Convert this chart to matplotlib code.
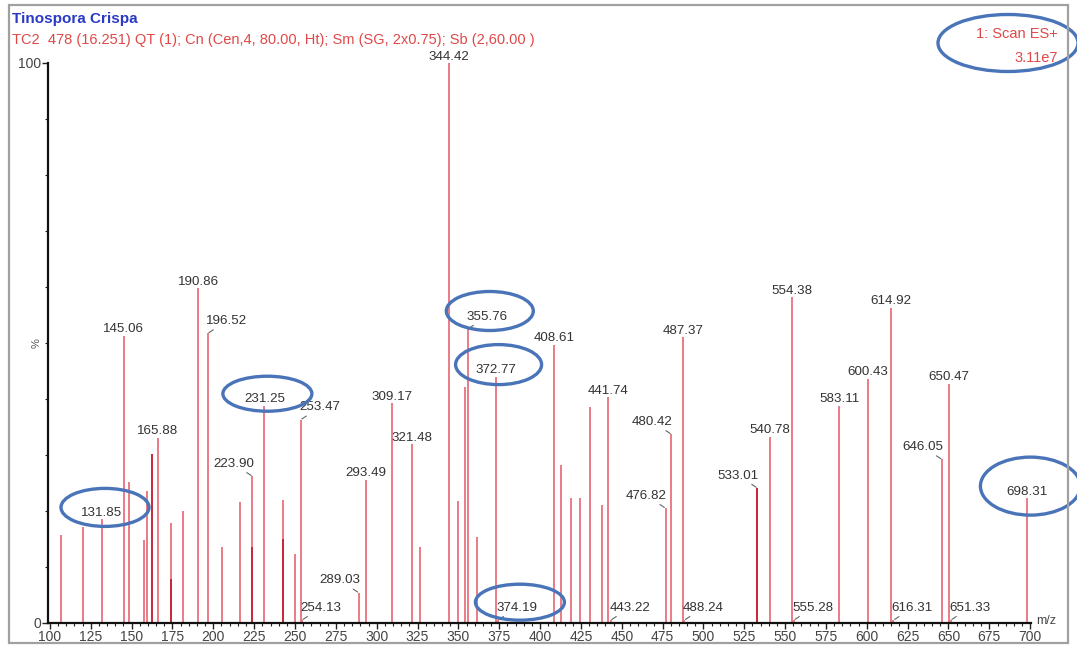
import matplotlib
matplotlib.use('Agg')
import matplotlib.pyplot as plt
from matplotlib.patches import Ellipse, Rectangle
from matplotlib.ticker import MultipleLocator
from matplotlib.transforms import IdentityTransform

plt.rcParams['font.family'] = ['Liberation Sans', 'DejaVu Sans']

# Pics annotés (m/z, intensité relative en %)
label_mz = [131.85, 145.06, 165.88, 190.86, 196.52, 223.90, 231.25, 253.47, 254.13,
            289.03, 293.49, 309.17, 321.48, 344.42, 355.76, 372.77, 374.19, 408.61,
            441.74, 443.22, 476.82, 480.42, 487.37, 488.24, 533.01, 540.78, 554.38,
            555.28, 583.11, 600.43, 614.92, 616.31, 646.05, 650.47, 651.33, 698.31]
label_int = [18.5, 51.3, 33.1, 59.8, 51.7, 26.2, 38.8, 36.3, 0.5,
             5.4, 25.6, 39.2, 31.9, 100.0, 52.5, 44.0, 0.5, 49.7,
             40.3, 0.5, 20.5, 33.7, 51.0, 0.5, 24.1, 33.3, 58.2,
             0.5, 38.8, 43.6, 56.3, 0.5, 29.2, 42.7, 0.5, 22.3]

# Pics sans étiquette
other_mz = [106.8, 120.0, 148.2, 157.7, 159.4, 174.0, 181.2, 205.1, 216.4, 242.7,
            249.9, 326.5, 350.0, 353.9, 361.2, 412.6, 418.7, 424.2, 430.5, 438.1]
other_int = [15.8, 17.2, 25.2, 14.9, 23.5, 17.8, 20.0, 13.5, 21.6, 22.0,
             12.4, 13.6, 21.8, 42.2, 15.4, 28.2, 22.4, 22.4, 38.6, 21.1]

# Traces plus foncées (pics superposés)
dark_mz = [162.2, 174.0, 223.6, 242.7, 533.01]
dark_int = [30.2, 7.9, 13.5, 15.0, 24.1]

# Étiquettes décalées (+1 à droite, -1 à gauche) avec trait de rappel
label_side = {196.52: 1, 223.90: -1, 253.47: 1, 254.13: 1, 289.03: -1, 355.76: 1,
              374.19: 1, 443.22: 1, 476.82: -1, 480.42: -1, 488.24: 1, 533.01: -1,
              555.28: 1, 616.31: 1, 646.05: -1, 651.33: 1}

# Étiquettes entourées en bleu : taille de l'ellipse en pixels
circled = {131.85: (88, 38), 231.25: (89, 35), 355.76: (87, 39),
           372.77: (86, 40), 374.19: (89, 36), 698.31: (100, 58)}

W, H = 1077, 646
fig = plt.figure(figsize=(W / 100, H / 100), dpi=100)
fig.patch.set_facecolor('white')

ax = fig.add_axes([48 / W, 23 / H, (1031 - 48) / W, (623 - 63) / H])
ax.set_xlim(98.8, 700.5)
ax.set_ylim(0, 100)

peak_color = '#e8727e'
ax.vlines(other_mz, 0, other_int, color=peak_color, lw=1.3)
ax.vlines(label_mz, 0, label_int, color=peak_color, lw=1.3)
ax.vlines(dark_mz, 0, dark_int, color='#c8283a', lw=1.4)

for s in ['top', 'right']:
    ax.spines[s].set_visible(False)
for s in ['left', 'bottom']:
    ax.spines[s].set_linewidth(1.6)
    ax.spines[s].set_color('#111111')

ax.set_xticks(range(100, 701, 25))
ax.xaxis.set_minor_locator(MultipleLocator(5))
ax.set_yticks([0, 100])
ax.yaxis.set_minor_locator(MultipleLocator(10))
ax.tick_params(which='major', length=4, width=1, colors='#222222',
               labelsize=10, labelcolor='#444444', pad=1)
ax.tick_params(which='minor', length=2.5, width=0.8, colors='#222222')

# Étiquettes des pics
for mz, val in zip(label_mz, label_int):
    side = label_side.get(mz, 0)
    if side == 0:
        ax.annotate(f'{mz:.2f}', (mz, val), xytext=(0, 2.5), textcoords='offset points',
                    ha='center', va='baseline', fontsize=9.6, color='#333333',
                    annotation_clip=False)
    else:
        ax.annotate(f'{mz:.2f}', (mz, val), xytext=(side * 13.7, 6.8),
                    textcoords='offset points', ha='center', va='baseline',
                    fontsize=9.6, color='#333333', annotation_clip=False,
                    arrowprops=dict(arrowstyle='-', color='#666666', lw=0.8,
                                    shrinkA=0, shrinkB=1))

# Ellipses bleues autour de certaines étiquettes
ell_color = '#4a74b8'
for mz, (w, h) in circled.items():
    val = label_int[label_mz.index(mz)]
    px, py = ax.transData.transform((mz, val))
    side = label_side.get(mz, 0)
    if side == 0:
        cx, cy = px, py + 8
    else:
        cx, cy = px + side * 19, py + 14
    fig.add_artist(Ellipse((cx + 3, cy + 4), w, h, transform=IdentityTransform(),
                           fill=False, edgecolor=ell_color, lw=2.4))

# En-tête
fig.text(12 / W, 1 - 19 / H, 'Tinospora Crispa', fontsize=11, fontweight='bold',
         color='#2a3ac4', ha='left', va='center')
fig.text(12 / W, 1 - 40 / H,
         'TC2  478 (16.251) QT (1); Cn (Cen,4, 80.00, Ht); Sm (SG, 2x0.75); Sb (2,60.00 )',
         fontsize=10.5, color='#e04848', ha='left', va='center')
fig.text(1058 / W, 1 - 34 / H, '1: Scan ES+', fontsize=10.5, color='#e04848',
         ha='right', va='center')
fig.text(1058 / W, 1 - 58 / H, '3.11e7', fontsize=10.5, color='#e04848',
         ha='right', va='center')
fig.add_artist(Ellipse((1008, H - 43), 140, 57, transform=IdentityTransform(),
                       fill=False, edgecolor=ell_color, lw=2.4))

fig.text(37 / W, 1 - 343 / H, '%', fontsize=8, color='#555555', rotation=90,
         ha='center', va='center')
fig.text(1036 / W, 1 - 621 / H, 'm/z', fontsize=9, color='#444444',
         ha='left', va='center')

# Cadre gris de la fenêtre
fig.add_artist(Rectangle((9 / W, 3 / H), (1068 - 9) / W, (641 - 3) / H,
                         transform=fig.transFigure, fill=False,
                         edgecolor='#a0a0a0', lw=1.6))

fig.savefig('out.png', dpi=100)
